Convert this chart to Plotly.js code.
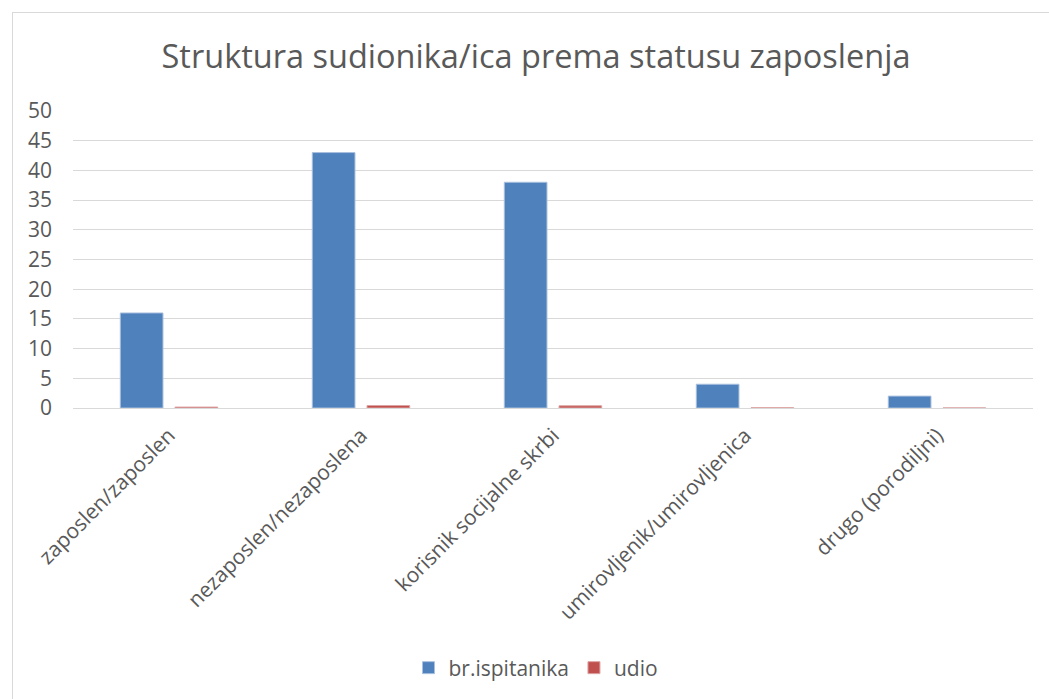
<!DOCTYPE html>
<html>
<head>
<meta charset="utf-8">
<script src="https://cdn.plot.ly/plotly-3.0.1.min.js"></script>
<style>
  html, body { margin: 0; padding: 0; background: #fff; overflow: hidden; }
  #frame { position: absolute; left: 12px; top: 12px; width: 1040px; height: 690px; border: 1px solid #d9d9d9; }
  #chart { width: 1036px; height: 686px; }
</style>
</head>
<body>
<div id="frame"><div id="chart"></div></div>
<script>
const categories = ["zaposlen/zaposlen", "nezaposlen/nezaposlena", "korisnik socijalne skrbi", "umirovljenik/umirovljenica", "drugo (porodiljni)"];
const brIspitanika = [16, 43, 38, 4, 2];
const udio = [0.155, 0.417, 0.369, 0.039, 0.019];
const yTicks = [0, 5, 10, 15, 20, 25, 30, 35, 40, 45, 50];

const FONT = "'Open Sans', sans-serif";
const traces = [
  { type: "bar", name: "br.ispitanika", x: categories, y: brIspitanika,
    marker: { color: "#4f81bd", line: { color: "#a9c0de", width: 1 } }, hoverinfo: "x+y" },
  { type: "bar", name: "udio", x: categories, y: udio,
    marker: { color: "#c0504d", line: { color: "#dca3a2", width: 1 } }, hoverinfo: "x+y" }
];
const layout = {
  width: 1036, height: 686,
  margin: { l: 60, r: 16, t: 98, b: 291 },
  paper_bgcolor: "#ffffff", plot_bgcolor: "#ffffff",
  font: { family: FONT, color: "#595959", size: 20 },
  title: { text: "Struktura sudionika/ica prema statusu zaposlenja",
           font: { family: FONT, size: 32.5, color: "#595959" },
           x: 523/1036, xref: "container", xanchor: "center",
           y: 1 - 44/686, yref: "container", yanchor: "middle" },
  barmode: "group", bargap: 0.43, bargroupgap: 0.22,
  xaxis: { type: "category", tickangle: -45, showgrid: false, zeroline: false,
           showline: false, ticks: "", ticklabelstandoff: 10,
           tickfont: { size: 21, color: "#595959", family: FONT } },
  yaxis: { range: [0, 50], tickvals: yTicks, ticktext: yTicks.map(String),
           showgrid: true, gridcolor: "#d9d9d9", gridwidth: 1,
           zeroline: true, zerolinecolor: "#d9d9d9", zerolinewidth: 1,
           showline: false, ticks: "", ticklabelstandoff: 20,
           tickfont: { size: 21, color: "#595959", family: FONT } },
  showlegend: true,
  legend: { orientation: "h", x: 523/1036, xref: "container", xanchor: "center",
            y: 1 - 655/686, yref: "container", yanchor: "middle",
            font: { size: 21, color: "#595959", family: FONT }, itemwidth: 30 }
};
Plotly.newPlot("chart", traces, layout, { displayModeBar: false, staticPlot: true });
</script>
</body>
</html>
